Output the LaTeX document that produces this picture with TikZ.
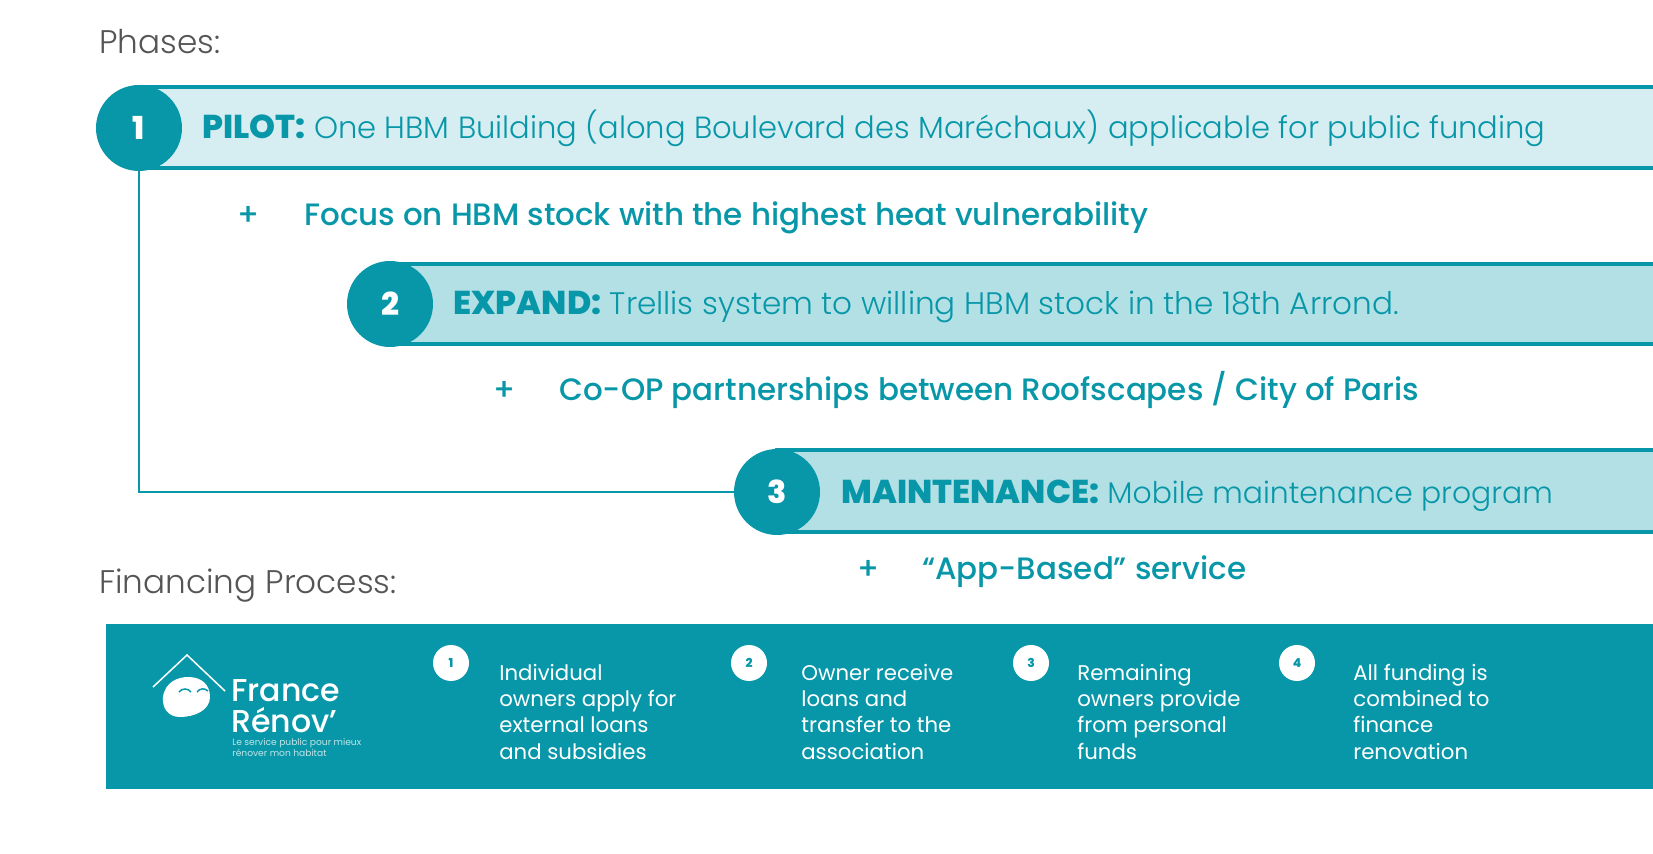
\documentclass[tikz,border=0pt]{standalone}
\usepackage{fontspec}
\setmainfont{Poppins}
\newfontfamily\lightfont{Poppins Light}
\newfontfamily\mediumfont{Poppins Medium}
\newfontfamily\heavyfont{Poppins ExtraBold}
\newcommand{\phaselabel}[1]{{\fontsize{18.8}{18}\heavyfont #1}}
\definecolor{tealmain}{HTML}{0897A8}
\definecolor{tealpale}{HTML}{D6EDF1}
\definecolor{teallight}{HTML}{B2E0E5}
\definecolor{headgray}{HTML}{555555}
\tikzset{
  phasebar/.style={draw=tealmain, line width=0.07cm},
  phasenum/.style={circle, fill=tealmain, text=white, inner sep=0pt, minimum size=1.72cm, font=\fontsize{18}{18}\heavyfont},
  stepnum/.style={circle, fill=white, text=tealmain, inner sep=0pt, minimum size=0.72cm, font=\fontsize{7}{7}\heavyfont},
  headtext/.style={anchor=base west, inner sep=0pt, text=headgray, font=\fontsize{18.6}{18}\lightfont},
  phasetext/.style={anchor=base west, inner sep=0pt, text=tealmain, font=\fontsize{17.4}{18}\lightfont},
  notetext/.style={anchor=base west, inner sep=0pt, text=tealmain, font=\fontsize{17.6}{18}\mediumfont},
  plustext/.style={anchor=base, inner sep=0pt, text=tealmain, font=\fontsize{17.6}{18}\mediumfont},
  steptext/.style={anchor=base west, inner sep=0pt, text=white, align=left, font=\fontsize{12.1}{14.9}\selectfont},
  logotext/.style={anchor=base west, inner sep=0pt, text=white, align=left, font=\fontsize{18}{17.6}\mediumfont},
}
\begin{document}
\begin{tikzpicture}[x=0.02cm, y=-0.02cm]
      \useasboundingbox (0,0) rectangle (1653,854);
      % Draw the headings
      \node[headtext] (phaseshead) at (99,54) {Phases:};
      \node[headtext] (financehead) at (99,593) {Financing Process:};
      % Draw the phase bars
      \draw[phasebar, fill=tealpale] (139,87) rectangle (1670,168);
      \draw[phasebar, fill=teallight] (390,264) rectangle (1670,344);
      \draw[phasebar, fill=teallight] (777,450) rectangle (1670,532);
      % Place the phase numbers
      \node[phasenum] (pilotnum) at (139,128) {1};
      \node[phasenum] (expandnum) at (390,304) {2};
      \node[phasenum] (maintnum) at (777,492) {3};
      % Draw the line 1 -> 3
      \draw[tealmain, line width=0.04cm] (pilotnum.south) |- (maintnum.west);
      % Place the phase texts
      \node[phasetext] (pilottext) at (202,139) {\phaselabel{PILOT:} One HBM Building (along Boulevard des Maréchaux) applicable for public funding};
      \node[plustext] (pilotplus) at (249,226) {+};
      \node[notetext] (pilotnote) at (304,226) {Focus on HBM stock with the highest heat vulnerability};
      \node[phasetext, font=\fontsize{17.7}{18}\lightfont] (expandtext) at (453,315) {\phaselabel{EXPAND:} Trellis system to willing HBM stock in the 18th Arrond.};
      \node[plustext] (expandplus) at (505,401) {+};
      \node[notetext] (expandnote) at (559,401) {Co-OP partnerships between Roofscapes / City of Paris};
      \node[phasetext, font=\fontsize{17}{18}\lightfont] (mainttext) at (841,503) {\phaselabel{MAINTENANCE:} Mobile maintenance program};
      \node[plustext] (maintplus) at (869,580) {+};
      \node[notetext] (maintnote) at (922,580) {“App-Based” service};
      % Draw the financing panel
      \fill[tealmain] (106,624) rectangle (1670,789);
      % Draw the logo
      \draw[white, line width=0.03cm] (153,687) -- (187,655) -- (225,691);
      \fill[white] (163,697) .. controls (165,682) and (178,677) .. (188,677)
        .. controls (202,677) and (210,685) .. (210,697)
        .. controls (210,710) and (195,717) .. (180,717)
        .. controls (168,717) and (162,708) .. (163,697);
      \draw[tealmain, line width=0.03cm] (179,692) .. controls (182,688) and (188,688) .. (191,692);
      \draw[tealmain, line width=0.03cm] (197,692) .. controls (200,688) and (205,688) .. (208,691);
      \node[logotext] (logoname) at (231,732) {France\\Rénov’};
      \node[anchor=base west, inner sep=0pt, text=white!75!tealmain, align=left, font=\fontsize{5.2}{6.2}\selectfont] (logotag) at (232,756) {Le service public pour mieux\\rénover mon habitat};
      % Place the steps
      \node[stepnum] (stepa) at (451,663) {1};
      \node[steptext] (texta) at (499,759) {Individual\\owners apply for\\external loans\\and subsidies};
      \node[stepnum] (stepb) at (749,663) {2};
      \node[steptext] (textb) at (801,759) {Owner receive\\loans and\\transfer to the\\association};
      \node[stepnum] (stepc) at (1031,663) {3};
      \node[steptext] (textc) at (1077,759) {Remaining\\owners provide\\from personal\\funds};
      \node[stepnum] (stepd) at (1297,663) {4};
      \node[steptext] (textd) at (1353,759) {All funding is\\combined to\\finance\\renovation};
    \end{tikzpicture}
\end{document}
